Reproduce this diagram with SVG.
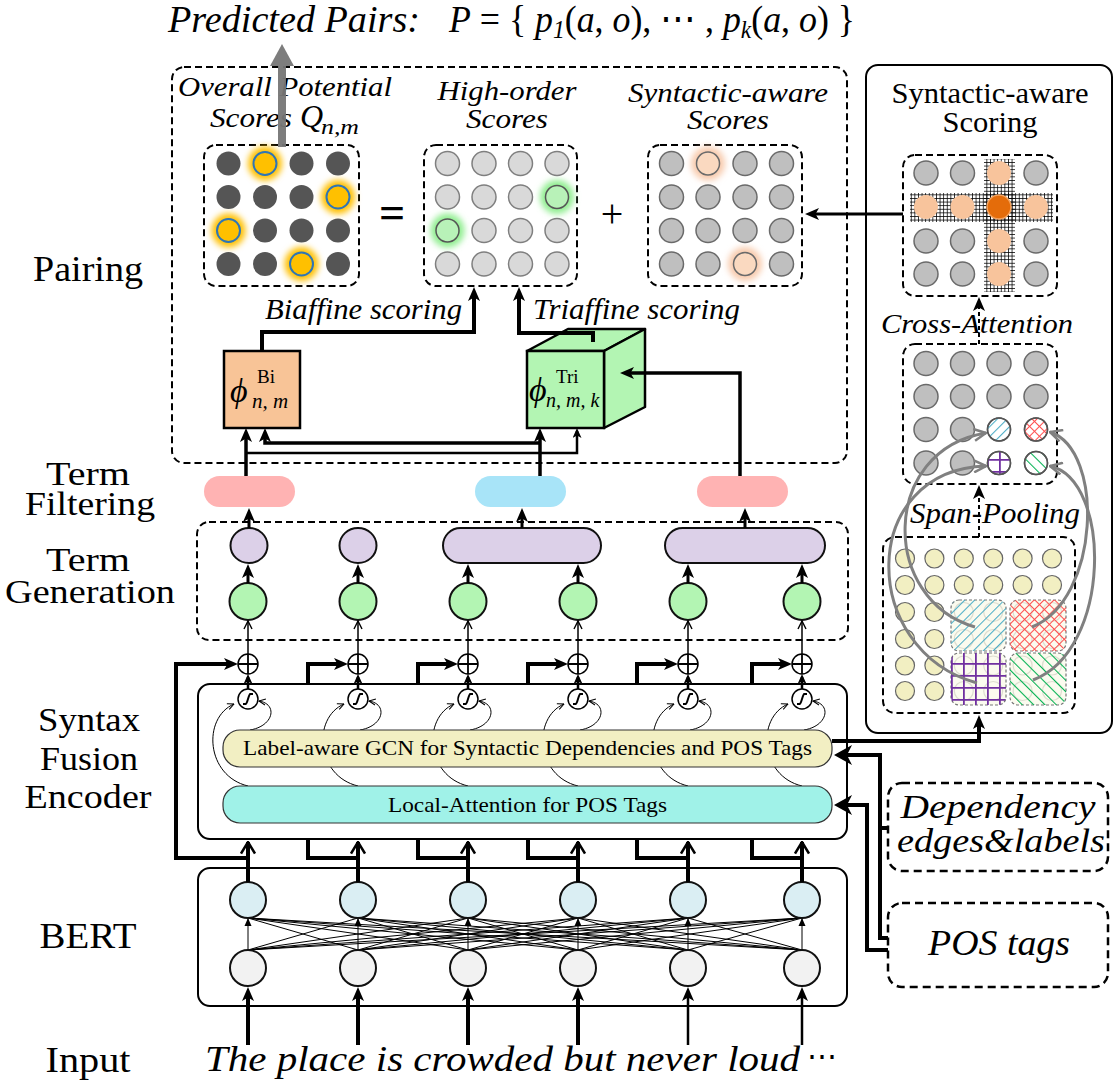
<svg xmlns="http://www.w3.org/2000/svg" width="1117" height="1084" viewBox="0 0 1117 1084">
<defs>
<style>
.rm{font-family:"Liberation Serif","Times New Roman",serif;fill:#000;}
.it{font-family:"Liberation Serif","Times New Roman",serif;font-style:italic;fill:#000;}
.dash{fill:none;stroke:#000;stroke-width:2;stroke-dasharray:7 4;}
.ln{fill:none;stroke:#000;}
.dk{fill:#555;}
.lg{fill:#D9D9D9;stroke:#7F7F7F;stroke-width:1.5;}
.md{fill:#BFBFBF;stroke:#6A6A6A;stroke-width:1.5;}
.yl{fill:#F2EFC2;stroke:#666;stroke-width:1.2;}
.fa{fill:none;stroke:#DDDDD0;stroke-width:1.2;}
.pc{fill:#F8C49C;}
.node{stroke:#111;stroke-width:2;}
.sub{fill:#FBFBEF;stroke:#777;stroke-width:1.2;stroke-dasharray:3 2;}
.gc{fill:none;stroke:#808080;stroke-width:3;marker-end:url(#gch);}
</style>
<filter id="glow" x="-60%" y="-60%" width="220%" height="220%"><feGaussianBlur stdDeviation="3"/></filter>
<marker id="ah" viewBox="0 0 14 12" refX="9" refY="6" markerWidth="14" markerHeight="12" markerUnits="userSpaceOnUse" orient="auto"><path d="M0,0 L14,6 L0,12 L3.5,6 z" fill="#000"/></marker>
<marker id="ahS" viewBox="0 0 10 9" refX="7" refY="4.5" markerWidth="10" markerHeight="9" markerUnits="userSpaceOnUse" orient="auto"><path d="M0,0 L10,4.5 L0,9 L2.5,4.5 z" fill="#000"/></marker>
<marker id="ahL" viewBox="0 0 18 20" refX="13" refY="10" markerWidth="18" markerHeight="20" markerUnits="userSpaceOnUse" orient="auto"><path d="M0,0 L18,10 L0,20 L5,10 z" fill="#000"/></marker>
<marker id="chevS" viewBox="0 0 10 10" refX="9" refY="5" markerWidth="10" markerHeight="10" markerUnits="userSpaceOnUse" orient="auto"><path d="M1,1 L9,5 L1,9" fill="none" stroke="#000" stroke-width="1.4"/></marker>
<marker id="chevT" viewBox="0 0 8 8" refX="7.5" refY="4" markerWidth="8" markerHeight="8" markerUnits="userSpaceOnUse" orient="auto"><path d="M1,1 L7.5,4 L1,7" fill="none" stroke="#000" stroke-width="1"/></marker>
<marker id="chevL" viewBox="0 0 14 16" refX="12.5" refY="8" markerWidth="14" markerHeight="16" markerUnits="userSpaceOnUse" orient="auto"><path d="M1,1 L12.5,8 L1,15" fill="none" stroke="#000" stroke-width="2.5"/></marker>
<marker id="gch" viewBox="0 0 14 14" refX="13" refY="7" markerWidth="14" markerHeight="14" markerUnits="userSpaceOnUse" orient="auto"><path d="M1,1 L13,7 L1,13" fill="none" stroke="#808080" stroke-width="2.5"/></marker>
<pattern id="pB" patternUnits="userSpaceOnUse" width="7" height="7" patternTransform="rotate(45)"><line x1="0.5" y1="0" x2="0.5" y2="7" stroke="#4BACC6" stroke-width="1.1"/></pattern>
<pattern id="pR" patternUnits="userSpaceOnUse" width="7" height="7" patternTransform="rotate(45)"><path d="M0.5,0 V7 M0,0.5 H7" stroke="#FF5050" stroke-width="1"/></pattern>
<pattern id="pP" patternUnits="userSpaceOnUse" width="12" height="12" x="3" y="3"><path d="M0.9,0 V12 M0,0.9 H12" stroke="#7030A0" stroke-width="1.8"/></pattern>
<pattern id="pG" patternUnits="userSpaceOnUse" width="8" height="8" patternTransform="rotate(-45)"><line x1="0.5" y1="0" x2="0.5" y2="8" stroke="#00B050" stroke-width="1.1"/></pattern>
<pattern id="pK" patternUnits="userSpaceOnUse" width="3.6" height="3.6"><path d="M0.4,0 V3.6 M0,0.4 H3.6" stroke="#000" stroke-width="0.8"/></pattern>
</defs>
<rect width="1117" height="1084" fill="#fff"/>

<!-- left stage labels -->
<g id="stage-labels" class="rm" font-size="34" text-anchor="middle">
<text x="88" y="281" font-size="36" textLength="110" lengthAdjust="spacingAndGlyphs">Pairing</text>
<text x="88" y="485" textLength="84" lengthAdjust="spacingAndGlyphs">Term</text>
<text x="90" y="515" textLength="130" lengthAdjust="spacingAndGlyphs">Filtering</text>
<text x="88" y="571" textLength="84" lengthAdjust="spacingAndGlyphs">Term</text>
<text x="90" y="603" textLength="170" lengthAdjust="spacingAndGlyphs">Generation</text>
<text x="89" y="731" textLength="102" lengthAdjust="spacingAndGlyphs">Syntax</text>
<text x="89" y="770" textLength="98" lengthAdjust="spacingAndGlyphs">Fusion</text>
<text x="88" y="808" textLength="127" lengthAdjust="spacingAndGlyphs">Encoder</text>
<text x="88" y="948" font-size="36" textLength="97" lengthAdjust="spacingAndGlyphs">BERT</text>
<text x="88" y="1072" font-size="36" textLength="85" lengthAdjust="spacingAndGlyphs">Input</text>
</g>

<!-- title -->
<g id="predicted-pairs">
<text class="it" font-size="38" x="168" y="32" textLength="252" lengthAdjust="spacingAndGlyphs">Predicted Pairs:</text>
<text class="rm" font-size="38" x="449" y="32" textLength="406" lengthAdjust="spacingAndGlyphs"><tspan class="it">P</tspan> = { <tspan class="it">p</tspan><tspan class="it" font-size="25" dy="6">1</tspan><tspan dy="-6">(</tspan><tspan class="it">a</tspan>, <tspan class="it">o</tspan>), ⋯ , <tspan class="it">p</tspan><tspan class="it" font-size="25" dy="6">k</tspan><tspan dy="-6">(</tspan><tspan class="it">a</tspan>, <tspan class="it">o</tspan>) }</text>
</g>

<!-- Pairing container -->
<g id="pairing">
<rect class="dash" x="172" y="67" width="675" height="396" rx="12"/>
<g class="it" font-size="28" text-anchor="middle">
<text x="285" y="96" textLength="214" lengthAdjust="spacingAndGlyphs">Overall Potential</text>
<text x="507" y="100" textLength="139" lengthAdjust="spacingAndGlyphs">High-order</text>
<text x="507" y="128" textLength="82" lengthAdjust="spacingAndGlyphs">Scores</text>
<text x="728" y="102" textLength="200" lengthAdjust="spacingAndGlyphs">Syntactic-aware</text>
<text x="728" y="129" textLength="82" lengthAdjust="spacingAndGlyphs">Scores</text>
</g>
<text class="it" font-size="28" x="210" y="127" textLength="82" lengthAdjust="spacingAndGlyphs">Scores</text>
<text class="it" font-size="32" x="300" y="127">Q</text>
<text class="it" font-size="21" x="321" y="134" textLength="38" lengthAdjust="spacingAndGlyphs">n,m</text>
<text class="rm" font-size="46" font-weight="bold" x="392" y="228" text-anchor="middle">=</text>
<text class="rm" font-size="40" x="612" y="227" text-anchor="middle">+</text>
</g>

<g id="grid-overall">
<rect class="dash" x="204" y="145" width="155" height="141" rx="12"/>
<g fill="#FFC000" filter="url(#glow)">
<circle cx="265" cy="163.5" r="17"/><circle cx="338" cy="197" r="17"/><circle cx="228.5" cy="230.5" r="17"/><circle cx="301.5" cy="264" r="17"/>
</g>
<g class="dk">
<circle cx="228.5" cy="163.5" r="12"/><circle cx="301.5" cy="163.5" r="12"/><circle cx="338" cy="163.5" r="12"/>
<circle cx="228.5" cy="197" r="12"/><circle cx="265" cy="197" r="12"/><circle cx="301.5" cy="197" r="12"/>
<circle cx="265" cy="230.5" r="12"/><circle cx="301.5" cy="230.5" r="12"/><circle cx="338" cy="230.5" r="12"/>
<circle cx="228.5" cy="264" r="12"/><circle cx="265" cy="264" r="12"/><circle cx="338" cy="264" r="12"/>
</g>
<g fill="#FFC000" stroke="#2E75B6" stroke-width="2">
<circle cx="265" cy="163.5" r="11.5"/><circle cx="338" cy="197" r="11.5"/><circle cx="228.5" cy="230.5" r="11.5"/><circle cx="301.5" cy="264" r="11.5"/>
</g>
</g>

<g id="grid-high-order">
<rect class="dash" x="424" y="145" width="153" height="141" rx="12"/>
<g fill="#90EE90" filter="url(#glow)"><circle cx="557" cy="197" r="17"/><circle cx="447.5" cy="230.5" r="17"/></g>
<g class="lg">
<circle cx="447.5" cy="163.5" r="12"/><circle cx="484" cy="163.5" r="12"/><circle cx="520.5" cy="163.5" r="12"/><circle cx="557" cy="163.5" r="12"/>
<circle cx="447.5" cy="197" r="12"/><circle cx="484" cy="197" r="12"/><circle cx="520.5" cy="197" r="12"/>
<circle cx="484" cy="230.5" r="12"/><circle cx="520.5" cy="230.5" r="12"/><circle cx="557" cy="230.5" r="12"/>
<circle cx="447.5" cy="264" r="12"/><circle cx="484" cy="264" r="12"/><circle cx="520.5" cy="264" r="12"/><circle cx="557" cy="264" r="12"/>
</g>
<g fill="#B8F2B8" stroke="#555" stroke-width="1.5"><circle cx="557" cy="197" r="11.5"/><circle cx="447.5" cy="230.5" r="11.5"/></g>
</g>

<g id="grid-syntactic-scores">
<rect class="dash" x="648" y="145" width="154" height="141" rx="12"/>
<g fill="#F8CBAD" filter="url(#glow)"><circle cx="708" cy="163.5" r="17"/><circle cx="745" cy="264" r="17"/></g>
<g class="md">
<circle cx="671.5" cy="163.5" r="12"/><circle cx="745" cy="163.5" r="12"/><circle cx="781.5" cy="163.5" r="12"/>
<circle cx="671.5" cy="197" r="12"/><circle cx="708" cy="197" r="12"/><circle cx="745" cy="197" r="12"/><circle cx="781.5" cy="197" r="12"/>
<circle cx="671.5" cy="230.5" r="12"/><circle cx="708" cy="230.5" r="12"/><circle cx="745" cy="230.5" r="12"/><circle cx="781.5" cy="230.5" r="12"/>
<circle cx="671.5" cy="264" r="12"/><circle cx="708" cy="264" r="12"/><circle cx="781.5" cy="264" r="12"/>
</g>
<g fill="#FAD9C0" stroke="#6A6A6A" stroke-width="1.5"><circle cx="708" cy="163.5" r="11.5"/><circle cx="745" cy="264" r="11.5"/></g>
</g>

<g id="phi-bi">
<rect x="224" y="351" width="76" height="77" fill="#F8C497" stroke="#000" stroke-width="2.5"/>
<text class="it" font-size="34" x="230" y="402" font-family="DejaVu Serif">ϕ</text>
<text class="rm" font-size="19" x="257" y="383">Bi</text>
<text class="it" font-size="21" x="252" y="408">n, m</text>
</g>

<g id="phi-tri">
<polygon points="527,351 568,329 645,329 604,351" fill="#B3F5B3" stroke="#000" stroke-width="2.5" stroke-linejoin="round"/>
<polygon points="604,351 645,329 645,407 604,428" fill="#B3F5B3" stroke="#000" stroke-width="2.5" stroke-linejoin="round"/>
<rect x="527" y="351" width="77" height="77" fill="#B3F5B3" stroke="#000" stroke-width="2.5"/>
<text class="it" font-size="34" x="529" y="401" font-family="DejaVu Serif">ϕ</text>
<text class="rm" font-size="19" x="556" y="383">Tri</text>
<text class="it" font-size="20" x="546" y="407">n, m, k</text>
</g>

<g id="scoring-labels" class="it" font-size="30">
<text x="265" y="319" textLength="197" lengthAdjust="spacingAndGlyphs">Biaffine scoring</text>
<text x="533" y="319" textLength="207" lengthAdjust="spacingAndGlyphs">Triaffine scoring</text>
</g>

<!-- Term filtering -->
<g id="term-filtering">
<rect x="204" y="476" width="91" height="31" rx="15.5" fill="#FFB3B3"/>
<rect x="475" y="476" width="91" height="31" rx="15.5" fill="#A8E4F8"/>
<rect x="697" y="476" width="91" height="31" rx="15.5" fill="#FFB3B3"/>
</g>

<!-- Term generation -->
<g id="term-generation">
<rect class="dash" x="197" y="522" width="651" height="118" rx="12"/>
<g fill="#DCD0E8" class="node">
<ellipse cx="249" cy="545.5" rx="18.5" ry="17.5"/>
<ellipse cx="358" cy="545.5" rx="18.5" ry="17.5"/>
<rect x="443" y="528" width="158" height="35" rx="17.5"/>
<rect x="665" y="528" width="160" height="35" rx="17.5"/>
</g>
<g fill="#B3F5B3" class="node">
<ellipse cx="248" cy="601.5" rx="18.5" ry="18.5"/>
<ellipse cx="358" cy="601.5" rx="18.5" ry="18.5"/>
<ellipse cx="468" cy="601.5" rx="18.5" ry="18.5"/>
<ellipse cx="578" cy="601.5" rx="18.5" ry="18.5"/>
<ellipse cx="688" cy="601.5" rx="18.5" ry="18.5"/>
<ellipse cx="802" cy="601.5" rx="18.5" ry="18.5"/>
</g>
</g>

<!-- Syntax fusion encoder -->
<g id="syntax-fusion-encoder">
<rect x="198" y="684" width="649" height="155" rx="12" fill="none" stroke="#000" stroke-width="2"/>
<g class="ln" stroke-width="1" marker-end="url(#chevT)">
<path d="M248,786 C206,776 202,718 234,704"/><path d="M250,730 C274,726 278,704 259,701"/>
<path d="M358,786 C316,776 312,718 344,704"/><path d="M360,730 C384,726 388,704 369,701"/>
<path d="M468,786 C426,776 422,718 454,704"/><path d="M470,730 C494,726 498,704 479,701"/>
<path d="M578,786 C536,776 532,718 564,704"/><path d="M580,730 C604,726 608,704 589,701"/>
<path d="M688,786 C646,776 642,718 674,704"/><path d="M690,730 C714,726 718,704 699,701"/>
<path d="M802,786 C760,776 756,718 788,704"/><path d="M804,730 C828,726 832,704 813,701"/>
</g>
<rect x="223" y="730" width="609" height="37" rx="17" fill="#F2EFC3" stroke="#333" stroke-width="1.2"/>
<rect x="223" y="786" width="609" height="37" rx="17" fill="#A0F2E8" stroke="#333" stroke-width="1.2"/>
<text class="rm" font-size="21" x="243" y="755" textLength="569" lengthAdjust="spacingAndGlyphs">Label-aware GCN for Syntactic Dependencies and POS Tags</text>
<text class="rm" font-size="21" x="388" y="812" textLength="279" lengthAdjust="spacingAndGlyphs">Local-Attention for POS Tags</text>
<g fill="#fff" stroke="#000" stroke-width="1.5">
<circle cx="248" cy="699" r="10"/><circle cx="358" cy="699" r="10"/><circle cx="468" cy="699" r="10"/>
<circle cx="578" cy="699" r="10"/><circle cx="688" cy="699" r="10"/><circle cx="802" cy="699" r="10"/>
<circle cx="248" cy="664" r="10"/><circle cx="358" cy="664" r="10"/><circle cx="468" cy="664" r="10"/>
<circle cx="578" cy="664" r="10"/><circle cx="688" cy="664" r="10"/><circle cx="802" cy="664" r="10"/>
</g>
<g class="ln" stroke-width="2">
<path d="M243,704 L246,704 C247,704 249,694 250,694 L253,694"/>
<path d="M353,704 L356,704 C357,704 359,694 360,694 L363,694"/>
<path d="M463,704 L466,704 C467,704 469,694 470,694 L473,694"/>
<path d="M573,704 L576,704 C577,704 579,694 580,694 L583,694"/>
<path d="M683,704 L686,704 C687,704 689,694 690,694 L693,694"/>
<path d="M797,704 L800,704 C801,704 803,694 804,694 L807,694"/>
</g>
<g class="ln" stroke-width="1.8">
<path d="M238,664 H258 M248,654 V674"/><path d="M348,664 H368 M358,654 V674"/><path d="M458,664 H478 M468,654 V674"/>
<path d="M568,664 H588 M578,654 V674"/><path d="M678,664 H698 M688,654 V674"/><path d="M792,664 H812 M802,654 V674"/>
</g>
</g>

<!-- BERT -->
<g id="bert">
<rect x="198" y="868" width="649" height="138" rx="12" fill="none" stroke="#000" stroke-width="2"/>
<path class="ln" stroke-width="1" d="M248,950L248,918M248,950L358,918M248,950L468,918M248,950L578,918M248,950L688,918M248,950L802,918M358,950L248,918M358,950L358,918M358,950L468,918M358,950L578,918M358,950L688,918M358,950L802,918M468,950L248,918M468,950L358,918M468,950L468,918M468,950L578,918M468,950L688,918M468,950L802,918M578,950L248,918M578,950L358,918M578,950L468,918M578,950L578,918M578,950L688,918M578,950L802,918M688,950L248,918M688,950L358,918M688,950L468,918M688,950L578,918M688,950L688,918M688,950L802,918M802,950L248,918M802,950L358,918M802,950L468,918M802,950L578,918M802,950L688,918M802,950L802,918"/>
<g fill="#000">
<polygon points="244.5,926 248,918 251.5,926"/><polygon points="354.5,926 358,918 361.5,926"/><polygon points="464.5,926 468,918 471.5,926"/>
<polygon points="574.5,926 578,918 581.5,926"/><polygon points="684.5,926 688,918 691.5,926"/><polygon points="798.5,926 802,918 805.5,926"/>
</g>
<g fill="#DAEEF3" class="node">
<circle cx="248" cy="900" r="18"/><circle cx="358" cy="900" r="18"/><circle cx="468" cy="900" r="18"/>
<circle cx="578" cy="900" r="18"/><circle cx="688" cy="900" r="18"/><circle cx="802" cy="900" r="18"/>
</g>
<g fill="#F2F2F2" class="node">
<circle cx="248" cy="968" r="18"/><circle cx="358" cy="968" r="18"/><circle cx="468" cy="968" r="18"/>
<circle cx="578" cy="968" r="18"/><circle cx="688" cy="968" r="18"/><circle cx="802" cy="968" r="18"/>
</g>
</g>

<text id="input-sentence" class="it" font-size="36" x="205" y="1071" textLength="595" lengthAdjust="spacingAndGlyphs">The place is crowded but never loud</text>
<text class="rm" font-size="30" x="807" y="1066">⋯</text>

<!-- Right panel: syntactic-aware scoring -->
<g id="syntactic-aware-scoring">
<rect x="866" y="65" width="246" height="668" rx="12" fill="none" stroke="#000" stroke-width="2"/>
<g class="rm" font-size="29" text-anchor="middle">
<text x="990" y="103" textLength="197" lengthAdjust="spacingAndGlyphs">Syntactic-aware</text>
<text x="990" y="132" textLength="95" lengthAdjust="spacingAndGlyphs">Scoring</text>
</g>
</g>

<g id="grid-cross">
<rect class="dash" x="903" y="155" width="154" height="141" rx="12"/>
<rect x="984" y="159" width="31" height="133" fill="url(#pK)"/>
<rect x="910" y="193" width="143" height="29" fill="url(#pK)"/>
<g class="md">
<circle cx="926" cy="173" r="12"/><circle cx="962.5" cy="173" r="12"/><circle cx="1036" cy="173" r="12"/>
<circle cx="926" cy="241" r="12"/><circle cx="962.5" cy="241" r="12"/><circle cx="1036" cy="241" r="12"/>
<circle cx="926" cy="274" r="12"/><circle cx="962.5" cy="274" r="12"/><circle cx="1036" cy="274" r="12"/>
</g>
<g class="pc">
<circle cx="999" cy="173" r="12"/><circle cx="926" cy="207" r="12"/><circle cx="962.5" cy="207" r="12"/><circle cx="1036" cy="207" r="12"/>
<circle cx="999" cy="241" r="12"/><circle cx="999" cy="274" r="12"/>
</g>
<circle cx="999" cy="207" r="12" fill="#E46C0A" stroke="#F4A460" stroke-width="1.5"/>
</g>

<g id="grid-cross-attention">
<rect class="dash" x="903" y="344" width="154" height="140" rx="12"/>
<g class="md">
<circle cx="926" cy="363.5" r="12"/><circle cx="962.5" cy="363.5" r="12"/><circle cx="999" cy="363.5" r="12"/><circle cx="1036" cy="363.5" r="12"/>
<circle cx="926" cy="396.5" r="12"/><circle cx="962.5" cy="396.5" r="12"/><circle cx="999" cy="396.5" r="12"/><circle cx="1036" cy="396.5" r="12"/>
<circle cx="926" cy="429.5" r="12"/><circle cx="962.5" cy="429.5" r="12"/>
<circle cx="926" cy="463" r="12"/><circle cx="962.5" cy="463" r="12"/>
</g>
<g stroke="#555" stroke-width="1.5">
<circle cx="999" cy="429.5" r="11.5" fill="#fff"/><circle cx="999" cy="429.5" r="11.5" fill="url(#pB)"/>
<circle cx="1036" cy="429.5" r="11.5" fill="#fff"/><circle cx="1036" cy="429.5" r="11.5" fill="url(#pR)"/>
<circle cx="999" cy="463" r="11.5" fill="#fff"/><circle cx="999" cy="463" r="11.5" fill="url(#pP)"/>
<circle cx="1036" cy="463" r="11.5" fill="#fff"/><circle cx="1036" cy="463" r="11.5" fill="url(#pG)"/>
</g>
</g>

<g id="grid-span-pooling">
<rect class="dash" x="883" y="537" width="192" height="176" rx="12"/>
<g class="yl">
<circle cx="905" cy="558.5" r="9.5"/><circle cx="934.4" cy="558.5" r="9.5"/><circle cx="963.8" cy="558.5" r="9.5"/><circle cx="993.2" cy="558.5" r="9.5"/><circle cx="1022.6" cy="558.5" r="9.5"/><circle cx="1052" cy="558.5" r="9.5"/>
<circle cx="905" cy="585" r="9.5"/><circle cx="934.4" cy="585" r="9.5"/><circle cx="963.8" cy="585" r="9.5"/><circle cx="993.2" cy="585" r="9.5"/><circle cx="1022.6" cy="585" r="9.5"/><circle cx="1052" cy="585" r="9.5"/>
<circle cx="905" cy="612" r="9.5"/><circle cx="934.4" cy="612" r="9.5"/>
<circle cx="905" cy="639" r="9.5"/><circle cx="934.4" cy="639" r="9.5"/>
<circle cx="905" cy="665.5" r="9.5"/><circle cx="934.4" cy="665.5" r="9.5"/>
<circle cx="905" cy="691" r="9.5"/><circle cx="934.4" cy="691" r="9.5"/>
</g>
<rect class="sub" x="951" y="600" width="55" height="51" rx="8"/>
<rect class="sub" x="1010" y="600" width="56" height="51" rx="8"/>
<rect class="sub" x="951" y="653" width="55" height="52" rx="8"/>
<rect class="sub" x="1010" y="653" width="56" height="52" rx="8"/>
<g class="fa">
<circle cx="963.8" cy="612" r="9.5"/><circle cx="993.2" cy="612" r="9.5"/><circle cx="1022.6" cy="612" r="9.5"/><circle cx="1052" cy="612" r="9.5"/>
<circle cx="963.8" cy="639" r="9.5"/><circle cx="993.2" cy="639" r="9.5"/><circle cx="1022.6" cy="639" r="9.5"/><circle cx="1052" cy="639" r="9.5"/>
<circle cx="963.8" cy="665.5" r="9.5"/><circle cx="993.2" cy="665.5" r="9.5"/><circle cx="1022.6" cy="665.5" r="9.5"/><circle cx="1052" cy="665.5" r="9.5"/>
<circle cx="963.8" cy="691" r="9.5"/><circle cx="993.2" cy="691" r="9.5"/><circle cx="1022.6" cy="691" r="9.5"/><circle cx="1052" cy="691" r="9.5"/>
</g>
<rect x="951" y="600" width="55" height="51" rx="8" fill="url(#pB)"/>
<rect x="1010" y="600" width="56" height="51" rx="8" fill="url(#pR)"/>
<rect x="951" y="653" width="55" height="52" rx="8" fill="url(#pP)"/>
<rect x="1010" y="653" width="56" height="52" rx="8" fill="url(#pG)"/>
</g>

<g id="dependency-input">
<rect x="888" y="783" width="220" height="88" rx="14" fill="none" stroke="#000" stroke-width="2.5" stroke-dasharray="8 5"/>
<text class="it" font-size="33" x="998" y="818" text-anchor="middle" textLength="195" lengthAdjust="spacingAndGlyphs">Dependency</text>
<text class="it" font-size="33" x="1001" y="852" text-anchor="middle" textLength="208" lengthAdjust="spacingAndGlyphs">edges&amp;labels</text>
</g>
<g id="pos-input">
<rect x="888" y="903" width="220" height="84" rx="14" fill="none" stroke="#000" stroke-width="2.5" stroke-dasharray="8 5"/>
<text class="it" font-size="36" x="999" y="955" text-anchor="middle" textLength="142" lengthAdjust="spacingAndGlyphs">POS tags</text>
</g>

<!-- connectors -->
<g id="connectors" class="ln">
<path d="M262,351 V332 H474 V292" stroke-width="4" marker-end="url(#ah)"/>
<path d="M593,342 V333 H519 V292" stroke-width="4" marker-end="url(#ah)"/>
<path d="M246,476 V433" stroke-width="3.5" marker-end="url(#ah)"/>
<path d="M540,476 V433" stroke-width="3.5" marker-end="url(#ah)"/>
<path d="M540,443 H265 V433" stroke-width="3.5" marker-end="url(#ah)"/>
<path d="M246,453 H577 V431" stroke-width="2.5" marker-end="url(#ahS)"/>
<path d="M740,476 V373 H625" stroke-width="3.5" marker-end="url(#ah)"/>
<g stroke-width="3" marker-end="url(#ah)">
<path d="M249,528 V513"/><path d="M522,528 V513"/><path d="M745,528 V513"/>
<path d="M248,583 V569"/><path d="M358,583 V569"/><path d="M468,583 V569"/>
<path d="M578,583 V569"/><path d="M688,583 V569"/><path d="M802,583 V569"/>
</g>
<g stroke-width="1.5" marker-end="url(#chevS)">
<path d="M248,654 V621"/><path d="M358,654 V621"/><path d="M468,654 V621"/>
<path d="M578,654 V621"/><path d="M688,654 V621"/><path d="M802,654 V621"/>
</g>
<g stroke-width="2.5" marker-end="url(#ahS)">
<path d="M248,689 V677"/><path d="M358,689 V677"/><path d="M468,689 V677"/>
<path d="M578,689 V677"/><path d="M688,689 V677"/><path d="M802,689 V677"/>
</g>
<g stroke-width="4" stroke-linejoin="miter">
<path d="M248,858 H176 V664 H233" marker-end="url(#ah)"/>
<path d="M358,858 H308 V840"/><path d="M308,684 V664 H343" marker-end="url(#ah)"/>
<path d="M468,858 H418 V840"/><path d="M418,684 V664 H453" marker-end="url(#ah)"/>
<path d="M578,858 H528 V840"/><path d="M528,684 V664 H563" marker-end="url(#ah)"/>
<path d="M688,858 H637 V840"/><path d="M637,684 V664 H673" marker-end="url(#ah)"/>
<path d="M802,858 H752 V840"/><path d="M752,684 V664 H787" marker-end="url(#ah)"/>
</g>
<g stroke-width="4" marker-end="url(#chevL)">
<path d="M248,882 V842"/><path d="M358,882 V842"/><path d="M468,882 V842"/>
<path d="M578,882 V842"/><path d="M688,882 V842"/><path d="M802,882 V842"/>
</g>
<g marker-end="url(#ah)">
<path d="M248,1045 V992" stroke-width="4"/><path d="M358,1045 V992" stroke-width="4"/><path d="M468,1045 V992" stroke-width="4"/>
<path d="M578,1045 V992" stroke-width="4"/><path d="M688,1045 V992" stroke-width="2.5"/><path d="M802,1045 V992" stroke-width="2.5"/>
</g>
<path d="M832,741 H979 V720" stroke-width="4" marker-end="url(#ah)"/>
<path d="M888,828 H880" stroke-width="4"/>
<path d="M888,938 H880 V755 H839" stroke-width="4" marker-end="url(#ahL)"/>
<path d="M888,950 H867 V805 H839" stroke-width="4" marker-end="url(#ahL)"/>
<path d="M903,214 H810" stroke-width="3" marker-end="url(#ah)"/>
<path d="M979,344 V302" stroke-width="2" stroke-dasharray="4 3" marker-end="url(#ah)"/>
<path d="M979,537 V490" stroke-width="2" stroke-dasharray="4 3" marker-end="url(#ah)"/>
<path class="gc" d="M975,627 C880,600 880,450 986,433"/>
<path class="gc" d="M977,683 C858,650 858,470 986,466"/>
<path class="gc" d="M1032,627 C1100,600 1105,450 1050,432"/>
<path class="gc" d="M1033,680 C1112,650 1112,480 1050,466"/>
</g>

<g id="right-labels" class="it" text-anchor="middle">
<text font-size="28" x="977" y="333" textLength="192" lengthAdjust="spacingAndGlyphs">Cross-Attention</text>
<text font-size="29" x="995" y="523" textLength="170" lengthAdjust="spacingAndGlyphs">Span-Pooling</text>
</g>

<g id="output-arrow" fill="#777" opacity="0.95">
<rect x="278" y="64" width="8" height="83"/>
<polygon points="270,66 294,66 282,44"/>
</g>
</svg>
